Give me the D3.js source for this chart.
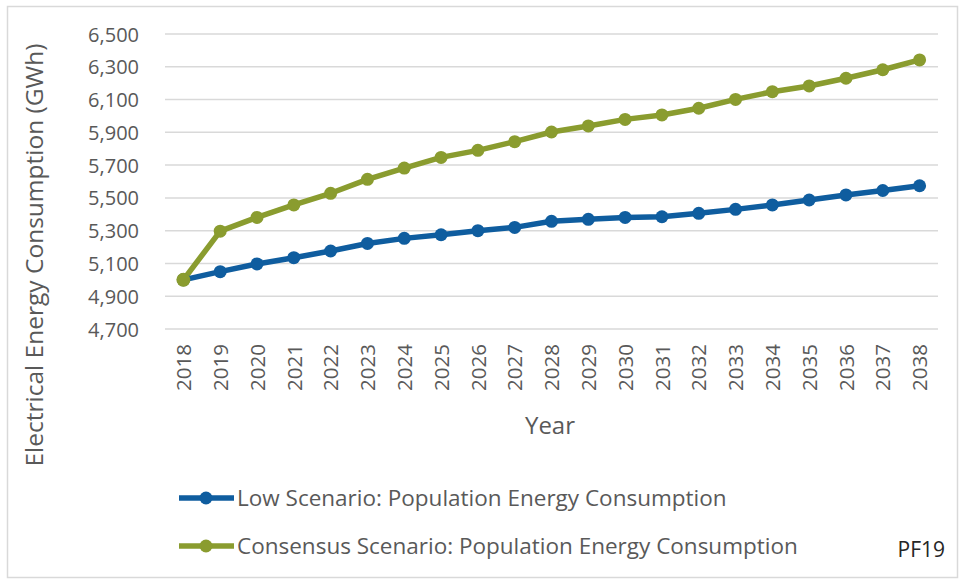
<!DOCTYPE html>
<html>
<head>
<meta charset="utf-8">
<script src="https://cdn.jsdelivr.net/npm/d3@7"></script>
<style>
  html, body { margin: 0; padding: 0; background: #fff; }
  svg { display: block; font-family: "Open Sans", "Noto Sans", sans-serif; }
</style>
</head>
<body>
<svg id="chart" width="964" height="584"></svg>
<script>
const years = ["2018","2019","2020","2021","2022","2023","2024","2025","2026","2027","2028","2029","2030","2031","2032","2033","2034","2035","2036","2037","2038"];
const lowScenario = [5000,5050,5097,5135,5176,5222,5253,5275,5300,5320,5357,5369,5381,5385,5406,5430,5457,5487,5518,5545,5574];
const consensusScenario = [5000,5297,5381,5457,5528,5613,5682,5747,5790,5843,5902,5939,5979,6006,6047,6101,6148,6183,6230,6282,6342];
const yTicks = [4700,4900,5100,5300,5500,5700,5900,6100,6300,6500];
const seriesNames = ["Low Scenario: Population Energy Consumption", "Consensus Scenario: Population Energy Consumption"];
const seriesColors = ["#0f5d9f", "#8a9c2f"];

const svg = d3.select("#chart");

// outer border
svg.append("rect").attr("x", 7.5).attr("y", 6.5).attr("width", 950).attr("height", 571)
  .attr("fill", "#fff").attr("stroke", "#d9d9d9").attr("stroke-width", 1.5);

const x = d3.scalePoint().domain(years).range([165, 938]).padding(0.5);
const y = d3.scaleLinear().domain([4700, 6500]).range([329, 34]);

// gridlines
svg.append("g").selectAll("line").data(yTicks).join("line")
  .attr("x1", 165).attr("x2", 938)
  .attr("y1", d => y(d)).attr("y2", d => y(d))
  .attr("stroke", "#d9d9d9").attr("stroke-width", 1.5);

// y axis labels
const yAxis = d3.axisLeft(y).tickValues(yTicks).tickFormat(d3.format(",")).tickSize(0).tickPadding(0);
const gy = svg.append("g").attr("transform", "translate(139,0)").call(yAxis);
gy.select(".domain").remove();
gy.selectAll("text").attr("font-size", 20).attr("fill", "#595959")
  .attr("font-family", "'Open Sans', sans-serif").attr("dy", "0.35em");

// x axis labels
const xAxis = d3.axisBottom(x).tickSize(0).tickPadding(0);
const gx = svg.append("g").attr("transform", "translate(0,340)").call(xAxis);
gx.select(".domain").remove();
gx.selectAll("text")
  .attr("font-size", 20.5).attr("fill", "#595959")
  .attr("font-family", "'Open Sans', sans-serif")
  .attr("transform", "rotate(-90)")
  .attr("text-anchor", "end")
  .attr("x", -4).attr("y", 0).attr("dy", "0.35em");

// axis titles
svg.append("text").attr("x", 550).attr("y", 434).attr("text-anchor", "middle")
  .attr("font-size", 24).attr("fill", "#595959").text("Year");
svg.append("text").attr("transform", "translate(43,255) rotate(-90)").attr("text-anchor", "middle")
  .attr("font-size", 24.5).attr("fill", "#595959").text("Electrical Energy Consumption (GWh)");

// lines
const data = [lowScenario, consensusScenario];
const line = d3.line().x((d, i) => x(years[i])).y(d => y(d));
[1, 0].forEach(k => {
  const g = svg.append("g");
  g.append("path").datum(data[k]).attr("d", line).attr("fill", "none")
    .attr("stroke", seriesColors[k]).attr("stroke-width", 5.5).attr("stroke-linejoin", "round");
  g.selectAll("circle").data(data[k]).join("circle")
    .attr("cx", (d, i) => x(years[i])).attr("cy", d => y(d)).attr("r", 6.5)
    .attr("fill", seriesColors[k]);
});
// first green point drawn on top (it overlaps the blue start)
svg.append("circle").attr("cx", x(years[0])).attr("cy", y(consensusScenario[0])).attr("r", 7)
  .attr("fill", seriesColors[1]);

// legend
const legendY = [498, 546];
seriesNames.forEach((name, i) => {
  const g = svg.append("g");
  g.append("line").attr("x1", 179).attr("x2", 234).attr("y1", legendY[i]).attr("y2", legendY[i])
    .attr("stroke", seriesColors[i]).attr("stroke-width", 5.5);
  g.append("circle").attr("cx", 206).attr("cy", legendY[i]).attr("r", 6.5).attr("fill", seriesColors[i]);
  g.append("text").attr("x", 237).attr("y", legendY[i]).attr("dy", "0.35em")
    .attr("font-size", 22.5).attr("fill", "#595959").text(name);
});

svg.append("text").attr("x", 945).attr("y", 550).attr("dy", "0.35em").attr("text-anchor", "end")
  .attr("font-size", 21).attr("fill", "#262626").text("PF19");
</script>
</body>
</html>
